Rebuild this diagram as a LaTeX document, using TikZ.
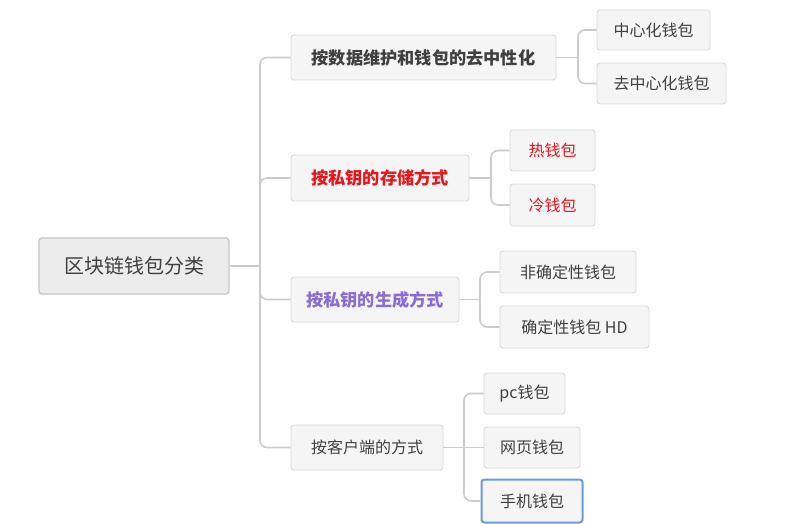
\documentclass[tikz,border=0pt]{standalone}
\usepackage{fontspec}
\setmainfont{Noto Sans CJK SC}
\definecolor{boxfill}{HTML}{F5F5F5}
\definecolor{boxline}{HTML}{DADADA}
\definecolor{rootfill}{HTML}{ECECEC}
\definecolor{rootline}{HTML}{C6C6C6}
\definecolor{txt}{HTML}{404040}
\definecolor{conncol}{HTML}{CCCCCC}
\definecolor{redtxt}{HTML}{E8151B}
\definecolor{purptxt}{HTML}{8B6CD6}
\definecolor{selblue}{HTML}{6C9BDB}
\begin{document}
\begin{tikzpicture}[x=1pt,y=-1pt,
  box/.style={draw=boxline,fill=boxfill,rounded corners=3pt,line width=0.9pt,text=txt,inner sep=0pt,font=\fontsize{16}{18}\selectfont},
  rootbox/.style={draw=rootline,fill=rootfill,rounded corners=3pt,line width=1.4pt,text=txt,inner sep=0pt,font=\fontsize{20}{24}\selectfont},
  lone/.style={box,font=\fontsize{17.2}{20}\selectfont\bfseries},
  conn/.style={draw=conncol,line width=1.6pt,rounded corners=7pt}]
\useasboundingbox (0,0) rectangle (806,524);
\fill[white] (0,0) rectangle (806,524);
% connectors first (behind boxes)
\coordinate (jr) at (260,266);
\coordinate (ja) at (578,57.5);
\coordinate (jb) at (491,178);
\coordinate (jc) at (480,299.5);
\coordinate (jd) at (464,447.5);
% nodes
\node[rootbox,minimum width=190pt,minimum height=56pt] (root) at (134,266) {区块链钱包分类};
\node[lone,minimum width=265pt,minimum height=45pt] (A) at (423.5,57.5) {按数据维护和钱包的去中性化};
\node[lone,text=redtxt,minimum width=178pt,minimum height=46pt] (B) at (380,178) {按私钥的存储方式};
\node[lone,text=purptxt,minimum width=168pt,minimum height=45pt] (C) at (375,299.5) {按私钥的生成方式};
\node[box,minimum width=152pt,minimum height=45pt] (D) at (367,447.5) {按客户端的方式};
\node[box,minimum width=113pt,minimum height=40pt] (a1) at (653.5,30) {中心化钱包};
\node[box,minimum width=129pt,minimum height=41pt] (a2) at (661.5,83.5) {去中心化钱包};
\node[box,text=redtxt,minimum width=85pt,minimum height=41pt] (b1) at (552.5,150.5) {热钱包};
\node[box,text=redtxt,minimum width=85pt,minimum height=42pt] (b2) at (552.5,205) {冷钱包};
\node[box,minimum width=136pt,minimum height=42pt] (c1) at (568,272) {非确定性钱包};
\node[box,minimum width=149pt,minimum height=42pt] (c2) at (574.5,327) {确定性钱包 HD};
\node[box,minimum width=81pt,minimum height=41pt] (d1) at (524.5,393.5) {pc钱包};
\node[box,minimum width=96pt,minimum height=41pt] (d2) at (532,447.5) {网页钱包};
\node[box,draw=selblue,line width=2pt,minimum width=101pt,minimum height=43pt] (d3) at (532,501) {手机钱包};
% connectors
\draw[conn] (root.east) -- (jr);
\draw[conn] (jr) |- (A.west);
\draw[conn] (jr) |- (B.west);
\draw[conn] (jr) |- (C.west);
\draw[conn] (jr) |- (D.west);
\draw[conn] (A.east) -- (ja);
\draw[conn] (ja) |- (a1.west);
\draw[conn] (ja) |- (a2.west);
\draw[conn] (B.east) -- (jb);
\draw[conn] (jb) |- (b1.west);
\draw[conn] (jb) |- (b2.west);
\draw[conn] (C.east) -- (jc);
\draw[conn] (jc) |- (c1.west);
\draw[conn] (jc) |- (c2.west);
\draw[conn] (D.east) -- (jd);
\draw[conn] (jd) |- (d1.west);
\draw[conn] (jd) -- (d2.west);
\draw[conn] (jd) |- (d3.west);
\end{tikzpicture}
\end{document}
